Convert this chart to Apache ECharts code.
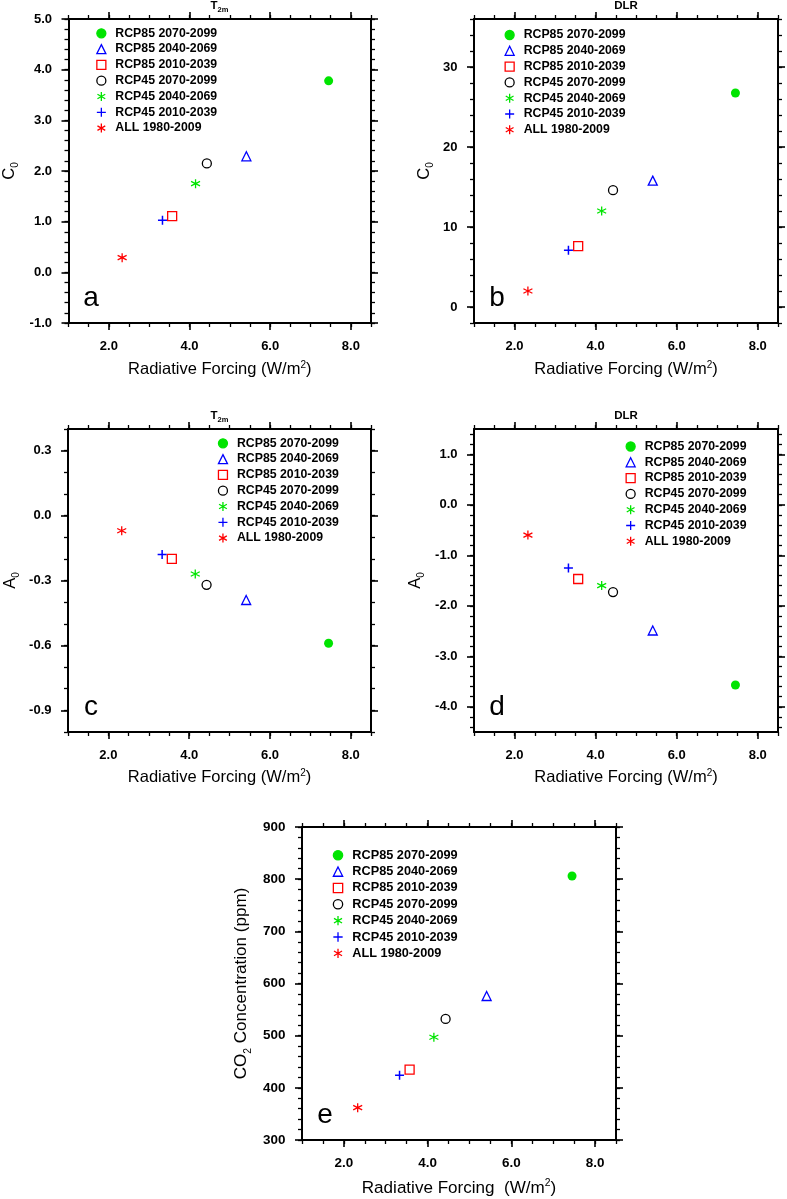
<!DOCTYPE html>
<html><head><meta charset="utf-8">
<script src="https://cdn.jsdelivr.net/npm/echarts@6/dist/echarts.min.js"></script>
<style>html,body{margin:0;padding:0;background:#fff}#c{width:787px;height:1199px}</style>
</head><body><div id="c"></div>
<script>
// ---- data ----
const groups = ['RCP85 2070-2099','RCP85 2040-2069','RCP85 2010-2039','RCP45 2070-2099','RCP45 2040-2069','RCP45 2010-2039','ALL 1980-2009'];
const forcing = [7.45, 5.41, 3.57, 4.43, 4.15, 3.33, 2.33];
const c0T2m = [3.78, 2.29, 1.11, 2.15, 1.75, 1.03, 0.29];
const c0DLR = [26.75, 15.8, 7.6, 14.6, 12.0, 7.1, 2.0];
const a0T2m = [-0.59, -0.39, -0.20, -0.32, -0.27, -0.18, -0.07];
const a0DLR = [-3.57, -2.49, -1.47, -1.73, -1.60, -1.25, -0.60];
const co2 = [806, 576, 435, 532, 497, 424, 362];
const xTicks = [2, 4, 6, 8];
const yTicksA = [-1, 0, 1, 2, 3, 4, 5];
const yTicksB = [0, 10, 20, 30];
const yTicksC = [-0.9, -0.6, -0.3, 0, 0.3];
const yTicksD = [-4, -3, -2, -1, 0, 1];
const yTicksE = [300, 400, 500, 600, 700, 800, 900];

// ---- styles ----
const FONT = '"Liberation Sans", Arial, Helvetica, sans-serif';
const ASTER = 'path://M5,0L5,10M0.67,2.5L9.33,7.5M0.67,7.5L9.33,2.5';
const PLUS = 'path://M5,0L5,10M0,5L10,5';
const GREEN = '#00e400', NONE = 'rgba(0,0,0,0)';
const markers = [
  {symbol:'circle', fill:GREEN, stroke:GREEN, bw:0, size:9},
  {symbol:'triangle', fill:NONE, stroke:'#0000ff', bw:1.3, size:9},
  {symbol:'rect', fill:NONE, stroke:'#ff0000', bw:1.3, size:9},
  {symbol:'circle', fill:NONE, stroke:'#000000', bw:1.3, size:9},
  {symbol:ASTER, fill:NONE, stroke:GREEN, bw:1.3, size:9},
  {symbol:PLUS, fill:NONE, stroke:'#0000ff', bw:1.5, size:9},
  {symbol:ASTER, fill:NONE, stroke:'#ff0000', bw:1.3, size:9}
];
const f1 = v => v.toFixed(1), f0 = v => String(Math.round(v));
const subRich = s => ({
  n:{fontSize:16.5*s, fontFamily:FONT, color:'#000'},
  s:{fontSize:10*s, fontFamily:FONT, color:'#000', padding:[12*s,0,0,0]},
  p:{fontSize:10*s, fontFamily:FONT, color:'#000', padding:[0,0,9*s,0]}
});
const panels = [
  {grid:{left:68, top:19, width:303, height:304}, values:c0T2m, yMin:-1, yMax:5, yTicks:yTicksA, yMinor:0.2, fmt:f1,
   title:'T2m', yName:'{n|C}{s|0}', yGap:48, xGap:37, xName:'{n|Radiative Forcing (W/m}{p|2}{n|)}', letter:'a', legend:{left:96.2, top:26.3}, s:1},
  {grid:{left:474, top:19, width:304, height:304}, values:c0DLR, yMin:-2, yMax:36, yTicks:yTicksB, yMinor:2, fmt:f0,
   title:'DLR', yName:'{n|C}{s|0}', yGap:39, xGap:37, xName:'{n|Radiative Forcing (W/m}{p|2}{n|)}', letter:'b', legend:{left:504.5, top:28}, s:1},
  {grid:{left:68, top:429, width:303, height:303}, values:a0T2m, yMin:-1.0, yMax:0.4, yTicks:yTicksC, yMinor:0.1, fmt:f1,
   title:'T2m', yName:'{n|A}{s|0}', yGap:47, xGap:36, xName:'{n|Radiative Forcing (W/m}{p|2}{n|)}', letter:'c', legend:{left:217.8, top:436.3}, s:1},
  {grid:{left:474, top:429, width:304, height:303}, values:a0DLR, yMin:-4.5, yMax:1.5, yTicks:yTicksD, yMinor:0.2, fmt:f1,
   title:'DLR', yName:'{n|A}{s|0}', yGap:47.5, xGap:36, xName:'{n|Radiative Forcing (W/m}{p|2}{n|)}', letter:'d', legend:{left:625.5, top:439.5}, s:1},
  {grid:{left:302, top:827, width:314, height:313}, values:co2, yMin:300, yMax:900, yTicks:yTicksE, yMinor:20, fmt:f0,
   title:null, yName:'{n|CO}{s|2}{n| Concentration (ppm)}', yGap:49, xGap:38.5, xName:'{n|Radiative Forcing  (W/m}{p|2}{n|)}', letter:'e', legend:{left:332.7, top:848}, s:1.035}
];

function minorList(min, max, step) {
  const out = [];
  for (let n = Math.ceil(min/step - 1e-9); n <= Math.floor(max/step + 1e-9); n++) out.push(+(n*step).toFixed(6));
  return out;
}

const grid = [], xAxis = [], yAxis = [], series = [], legend = [], graphic = [];
panels.forEach((p, i) => {
  grid.push(Object.assign({containLabel:false}, p.grid));
  const s = p.s;
  const dims = [
    {arr:xAxis, positions:['bottom','top'], min:1, max:8.5, major:xTicks, step:0.5, fmt:f1, name:p.xName, gap:p.xGap},
    {arr:yAxis, positions:['left','right'], min:p.yMin, max:p.yMax, major:p.yTicks, step:p.yMinor, fmt:p.fmt, name:p.yName, gap:p.yGap}
  ];
  dims.forEach(d => {
    const minor = minorList(d.min, d.max, d.step);
    d.positions.forEach((pos, j) => {
      const main = j === 0;
      d.arr.push({
        gridIndex:i, type:'value', position:pos, min:d.min, max:d.max,
        splitLine:{show:false},
        axisLine:{show:true, onZero:false, lineStyle:{color:'#000', width:2}},
        axisTick:{show:true, inside:false, length:7, customValues:d.major, lineStyle:{color:'#000', width:1.6}},
        axisLabel:{show:main, customValues:d.major, formatter:d.fmt, margin:16.5,
          fontSize:13*s, fontWeight:'bold', fontFamily:FONT, color:'#000'},
        name: main ? d.name : '', nameLocation:'middle', nameGap:d.gap,
        nameTextStyle:{fontSize:16.5*s, fontFamily:FONT, color:'#000', rich:subRich(s)}
      });
      d.arr.push({
        gridIndex:i, type:'value', position:pos, min:d.min, max:d.max,
        splitLine:{show:false},
        axisLine:{show:false, onZero:false},
        axisTick:{show:true, inside:false, length:4, customValues:minor, lineStyle:{color:'#000', width:1.3}},
        axisLabel:{show:false}
      });
    });
  });
  groups.forEach((g, k) => {
    const m = markers[k];
    series.push({
      type:'scatter', name:g, xAxisIndex:4*i, yAxisIndex:4*i,
      data:[[forcing[k], p.values[k]]],
      symbol:m.symbol, symbolSize:m.size,
      itemStyle:{color:m.fill, borderColor:m.stroke, borderWidth:m.bw, opacity:1},
      emphasis:{disabled:true}, silent:true, z:3
    });
  });
  legend.push({
    orient:'vertical', left:p.legend.left, top:p.legend.top, padding:0,
    itemWidth:9*s, itemHeight:9*s, itemGap:1.8*s, selectedMode:false,
    itemStyle:{borderWidth:1.3},
    textStyle:{fontSize:12.3*s, fontWeight:'bold', fontFamily:FONT, color:'#000', lineHeight:14*s, padding:[0,0,0,4.5*s]},
    data:groups.slice()
  });
  const cx = p.grid.left + p.grid.width/2;
  if (p.title) {
    graphic.push({type:'text', silent:true, style:{
      text: p.title === 'T2m' ? '{t|T}{u|2m}' : '{t|' + p.title + '}',
      x:cx, y:p.grid.top - 13, align:'center', verticalAlign:'middle',
      rich:{t:{fontSize:11.5, fontWeight:'bold', fontFamily:FONT, fill:'#000'},
            u:{fontSize:7.5, fontWeight:'bold', fontFamily:FONT, fill:'#000', padding:[7,0,0,0]}}
    }});
  }
  graphic.push({type:'text', silent:true, style:{
    text:p.letter, x:p.grid.left + 23, y:p.grid.top + p.grid.height - 24.5,
    align:'center', verticalAlign:'middle', font:'28px ' + FONT, fill:'#000'
  }});
});

const chart = echarts.init(document.getElementById('c'), null, {renderer:'canvas'});
chart.setOption({animation:false, backgroundColor:'#fff', grid, xAxis, yAxis, series, legend, graphic});
</script>
</body></html>
